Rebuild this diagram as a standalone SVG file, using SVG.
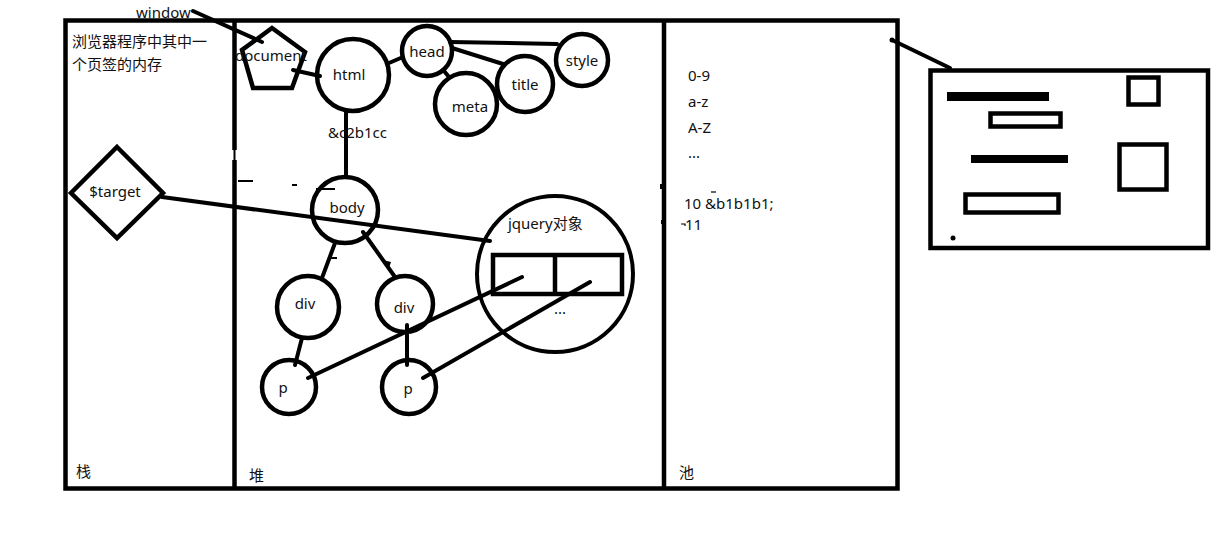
<svg xmlns="http://www.w3.org/2000/svg" width="1230" height="540" viewBox="0 0 1230 540">
<style>
.s{fill:none;stroke:#000;stroke-width:4.5}
.c{fill:#fff;stroke:#000;stroke-width:4.5}
.l{fill:none;stroke:#000;stroke-width:4;stroke-linecap:round}
.f{fill:#000}
text{font-family:"Noto Sans","Noto Sans CJK SC",sans-serif;font-size:15px;fill:#111}
.m{text-anchor:middle}
</style>
<rect width="1230" height="540" fill="#fff"/>
<g id="memory">
<rect class="s" x="65.5" y="20.5" width="832" height="468" stroke-width="5"/>
<line class="s" x1="234.5" y1="20" x2="234.5" y2="150"/>
<line x1="234.5" y1="150" x2="234.5" y2="160" stroke="#000" stroke-width="2"/>
<line class="s" x1="234.5" y1="160" x2="234.5" y2="489"/>
<line class="s" x1="664" y1="20" x2="664" y2="489"/>
<rect class="f" x="660" y="184" width="4" height="5"/>
<rect class="f" x="661" y="220" width="3" height="4"/>
<line x1="238" y1="181" x2="253" y2="181" stroke="#000" stroke-width="2"/>
<line x1="292" y1="185" x2="297" y2="185" stroke="#000" stroke-width="2"/>
<text x="72" y="47">浏览器程序中其中一</text>
<text x="72" y="70">个页签的内存</text>
<text x="76" y="477">栈</text>
<text x="249" y="481">堆</text>
<text x="679" y="478">池</text>
</g>
<g id="pool">
<text x="688" y="81">0-9</text>
<text x="688" y="107">a-z</text>
<text x="688" y="133">A-Z</text>
<text x="688" y="158">...</text>
<text x="684" y="209">10 &amp;b1b1b1;</text>
<line x1="711" y1="192" x2="716" y2="192" stroke="#000" stroke-width="1.2"/>
<text x="685" y="230">11</text>
<path d="M681 224 L685 224 L685 226" fill="none" stroke="#000" stroke-width="1.2"/>
</g>
<g id="connectors">
<line class="l" x1="193" y1="11" x2="262" y2="42"/>
<line class="l" x1="293" y1="70" x2="320" y2="76"/>
<line class="l" x1="389" y1="63" x2="403" y2="57"/>
<line class="l" x1="450" y1="42" x2="557" y2="44"/>
<line class="l" x1="452" y1="48" x2="503" y2="64"/>
<line class="l" x1="444" y1="71" x2="449" y2="77"/>
<line class="l" x1="346" y1="112" x2="346" y2="177"/>
<line class="l" x1="335" y1="243" x2="322" y2="278"/>
<line x1="330" y1="258" x2="337" y2="258" stroke="#000" stroke-width="2"/>
<line class="l" x1="363" y1="232" x2="395" y2="277"/>
<path d="M383 260 L391 262 L389 268 Z" class="f"/>
<line class="l" x1="302" y1="338" x2="295" y2="365"/>
<line class="l" x1="407" y1="325" x2="407" y2="365"/>
<line class="l" x1="308" y1="378" x2="522" y2="277"/>
<line class="l" x1="423" y1="378" x2="590" y2="282"/>
<line class="l" x1="162" y1="197" x2="490" y2="241"/>
<line class="l" x1="892" y1="40" x2="950" y2="68"/>
<circle class="f" cx="892" cy="40" r="2.5"/>
</g>
<g id="window">
<text x="136" y="18">window</text>
</g>
<g id="document">
<polygon class="s" points="272,28 305,52 292,88 253,88 242,50"/>
<text class="m" x="271" y="61">document</text>
</g>
<g id="html">
<circle class="s" cx="353" cy="75" r="36"/>
<text class="m" x="349" y="80">html</text>
</g>
<text x="328" y="138">&amp;c2b1cc</text>
<g id="head">
<circle class="s" cx="427" cy="51" r="25"/>
<text class="m" x="427" y="57">head</text>
</g>
<g id="meta">
<circle class="s" cx="466" cy="104" r="31"/>
<text class="m" x="470" y="112">meta</text>
</g>
<g id="title">
<circle class="s" cx="525" cy="84" r="28"/>
<text class="m" x="525" y="90">title</text>
</g>
<g id="style">
<circle class="s" cx="582" cy="60" r="26"/>
<text class="m" x="582" y="66">style</text>
</g>
<g id="body">
<circle class="s" cx="345" cy="210" r="33"/>
<text class="m" x="347" y="213">body</text>
<path d="M317 196 L317 189 L335 189" fill="none" stroke="#000" stroke-width="2"/>
</g>
<g id="div1">
<circle class="s" cx="308" cy="307" r="31"/>
<text class="m" x="305" y="309">div</text>
</g>
<g id="div2">
<circle class="s" cx="405" cy="304" r="28"/>
<text class="m" x="404" y="313">div</text>
</g>
<g id="p1">
<circle class="s" cx="289" cy="387" r="27"/>
<text class="m" x="283" y="393">p</text>
</g>
<g id="p2">
<circle class="s" cx="409" cy="387" r="27"/>
<text class="m" x="408" y="394">p</text>
</g>
<g id="jquery">
<circle fill="none" stroke="#000" stroke-width="4" cx="555" cy="274" r="78"/>
<text x="508" y="229">jquery对象</text>
<rect class="s" x="493" y="255" width="129" height="39"/>
<line class="s" x1="555" y1="255" x2="555" y2="294"/>
<text class="m" x="560" y="314">...</text>
</g>
<g id="target">
<polygon class="s" points="117,147 163,193 117,238 71,193"/>
<text class="m" x="115" y="197">$target</text>
</g>
<g id="page">
<rect class="s" x="930.5" y="70.5" width="277.5" height="177.5" stroke-width="5"/>
<rect class="f" x="947" y="92" width="102" height="9"/>
<rect class="s" x="990.5" y="113.5" width="70" height="13"/>
<rect class="f" x="971" y="155" width="97" height="8"/>
<rect class="s" x="965.5" y="194.5" width="93" height="18" stroke-width="5"/>
<rect class="s" x="1128.5" y="77.5" width="30" height="27" stroke-width="5"/>
<rect class="s" x="1119.5" y="144.5" width="47" height="45" stroke-width="5"/>
<circle class="f" cx="953" cy="238" r="2.5"/>
</g>
</svg>
